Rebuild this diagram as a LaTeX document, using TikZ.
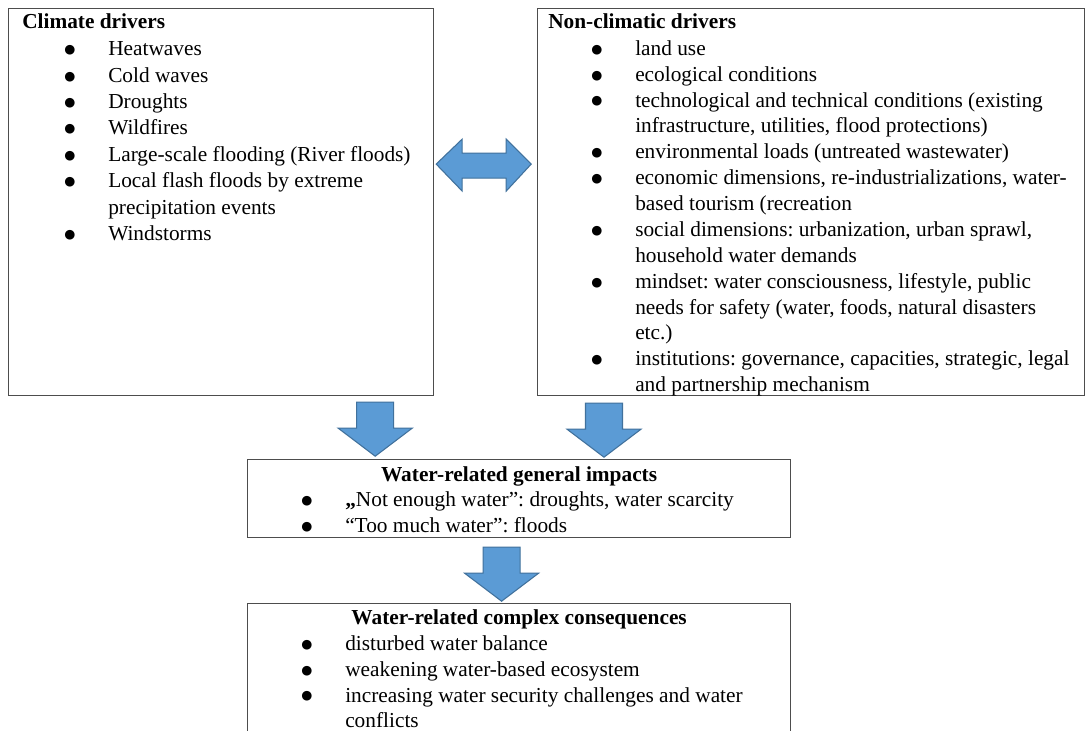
\documentclass[tikz,border=0pt]{standalone}
\usepackage{fontspec}
\setmainfont{Liberation Serif}
\newfontfamily\dotfont{DejaVu Sans}
\usepackage{tikz}
\usetikzlibrary{positioning, calc, backgrounds}
\definecolor{arrowfill}{HTML}{5B9BD5}
\definecolor{arrowline}{HTML}{41719C}
\definecolor{headfill}{HTML}{DCE6F2}
\definecolor{boxline}{HTML}{4D4D4D}
\frenchspacing
\newcommand{\bdot}{\raisebox{1.6pt}{\dotfont\fontsize{9.5}{10}\selectfont ●}}
\newcommand{\bitem}[1]{\strut\makebox[33pt][l]{\bdot}#1}
\newcommand{\bcont}[1]{\strut\hspace*{33pt}#1}
\tikzset{
  panel/.style={
    rectangle, draw=boxline, line width=0.9pt,
    anchor=north west, inner sep=0pt,
  },
  headtext/.style={
    font=\fontsize{16}{19.4}\selectfont\bfseries, inner sep=0pt,
  },
  listtext/.style={
    font=\fontsize{16}{19.4}\selectfont, align=left,
    inner sep=0pt, anchor=north west,
  },
  blockarrow/.style={fill=arrowfill, draw=arrowline, line width=0.8pt, line join=miter},
  downblock/.pic={
    \draw[blockarrow] (-18.5,0) -- (18.5,0) -- (18.5,26) -- (37,26)
      -- (0,54) -- (-37,26) -- (-18.5,26) -- cycle;
  },
}

\begin{document}
\begin{tikzpicture}[x=0.75pt, y=-0.75pt]

  \clip (0,0) rectangle (1086,731);
  \fill[white] (0,0) rectangle (1086,731);

  % the four boxes
  \node[panel, minimum width=318.75pt, minimum height=290.25pt] (climate) at (8,8) {};
  \node[panel, minimum width=410.25pt, minimum height=290.25pt] (drivers) at (537,8) {};
  \node[panel, minimum width=407.25pt, minimum height=58.5pt] (impacts) at (247,459) {};
  \node[panel, minimum width=407.25pt, minimum height=106.5pt] (consequences) at (247,603) {};

  \begin{scope}[on background layer]
    \fill[headfill] (climate.north west) rectangle ($(climate.north east)+(0,25)$);
    \fill[headfill] (drivers.north west) rectangle ($(drivers.north east)+(0,25)$);
  \end{scope}

  % climate drivers
  \node[headtext, anchor=base west] (climatehead) at ($(climate.north west)+(14,21)$) {Climate drivers};
  \node[listtext, font=\fontsize{16}{19.8}\selectfont] (climatelist) at ($(climate.north west)+(56,29)$) {%
    \bitem{Heatwaves}\\
    \bitem{Cold waves}\\
    \bitem{Droughts}\\
    \bitem{Wildfires}\\
    \bitem{Large-scale flooding (River floods)}\\
    \bitem{Local flash floods by extreme}\\
    \bcont{precipitation events}\\
    \bitem{Windstorms}};

  % non-climatic drivers
  \node[headtext, anchor=base west] (drivershead) at ($(drivers.north west)+(11,21)$) {Non-climatic drivers};
  \node[listtext] (driverslist) at ($(drivers.north west)+(54,29)$) {%
    \bitem{land use}\\
    \bitem{ecological conditions}\\
    \bitem{technological and technical conditions (existing}\\
    \bcont{infrastructure, utilities, flood protections)}\\
    \bitem{environmental loads (untreated wastewater)}\\
    \bitem{economic dimensions, re-industrializations, water-}\\
    \bcont{based tourism (recreation}\\
    \bitem{social dimensions: urbanization, urban sprawl,}\\
    \bcont{household water demands}\\
    \bitem{mindset: water consciousness, lifestyle, public}\\
    \bcont{needs for safety (water, foods, natural disasters}\\
    \bcont{etc.)}\\
    \bitem{institutions: governance, capacities, strategic, legal}\\
    \bcont{and partnership mechanism}};

  % general impacts
  \node[headtext, anchor=base] (impactshead) at ($(impacts.north)+(0,22)$) {Water-related general impacts};
  \node[listtext] (impactslist) at ($(impacts.north west)+(54,29)$) {%
    \bitem{\textbf{„}Not enough water”: droughts, water scarcity}\\
    \bitem{“Too much water”: floods}};

  % complex consequences
  \node[headtext, anchor=base] (consequenceshead) at ($(consequences.north)+(0,21)$) {Water-related complex consequences};
  \node[listtext] (consequenceslist) at ($(consequences.north west)+(54,29)$) {%
    \bitem{disturbed water balance}\\
    \bitem{weakening water-based ecosystem}\\
    \bitem{increasing water security challenges and water}\\
    \bcont{conflicts}};

  % block arrows
  \draw[blockarrow] ($(climate.east)+(2,-38)$) -- ++(26,-25) -- ++(0,14) -- ++(44,0)
    -- ++(0,-14) -- ++(25,25) -- ++(-25,27) -- ++(0,-13) -- ++(-44,0) -- ++(0,13) -- cycle;
  \pic at ($(climate.south east)+(-59,6)$) {downblock};
  \pic at ($(drivers.south west)+(67,7)$) {downblock};
  \pic at ($(impacts.south)+(-17.5,9)$) {downblock};

\end{tikzpicture}
\end{document}
